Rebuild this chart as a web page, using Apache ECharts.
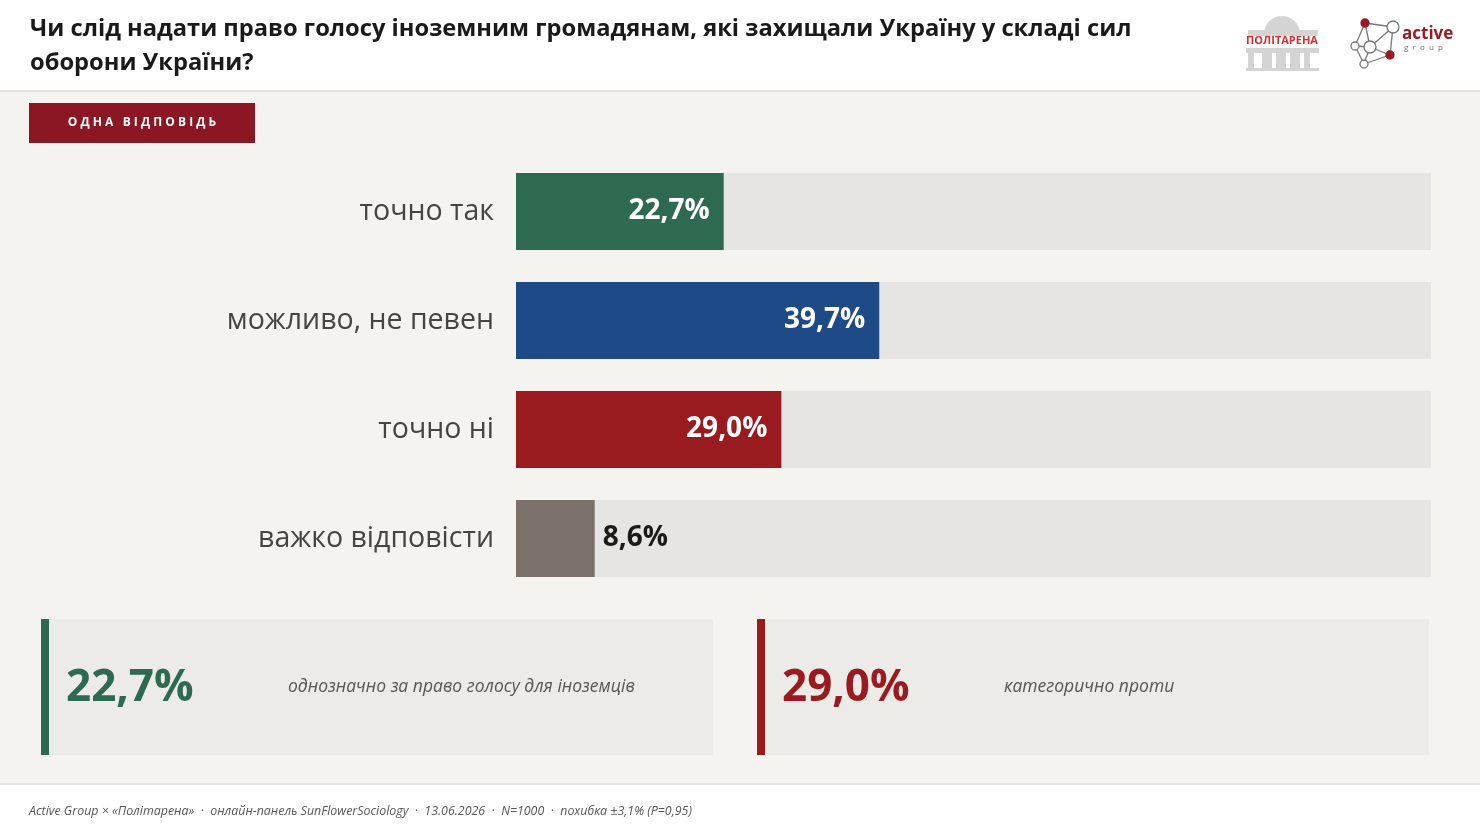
<!DOCTYPE html>
<html>
<head>
<meta charset="utf-8">
<script src="https://cdn.jsdelivr.net/npm/echarts@6/dist/echarts.min.js"></script>
<style>
  html, body { margin: 0; padding: 0; background: #f4f3f0; }
  #main { width: 1480px; height: 830px; }
</style>
</head>
<body>
<div id="main"></div>
<script>
var titleText = 'Чи слід надати право голосу іноземним громадянам, які захищали Україну у складі сил\nоборони України?';
var categories = ['точно так', 'можливо, не певен', 'точно ні', 'важко відповісти'];
var values = [22.7, 39.7, 29.0, 8.6];
var barColors = ['#2e6a4f', '#1e4b87', '#9a1b1f', '#7a716b'];
var summaryNotes = ['однозначно за право голосу для іноземців', 'категорично проти'];
var footerText = 'Active Group × «Політарена»  ·  онлайн-панель SunFlowerSociology  ·  13.06.2026  ·  N=1000  ·  похибка ±3,1% (P=0,95)';

function fmt(v) {
    return v.toFixed(1).replace('.', ',') + '%';
}

function buildSeriesData() {
    return values.map(function (v, i) {
        var item = {
            value: v,
            itemStyle: { color: barColors[i] }
        };
        // маленький стовпчик - підпис зовні
        if (v < 15) {
            item.label = {
                position: 'right',
                distance: 8,
                color: '#1a1a1a'
            };
        }
        return item;
    });
}

function summaryBox(x, color, value, note) {
    return [
        { type: 'rect', shape: { x: x, y: 619, width: 672, height: 136 }, style: { fill: '#edebe7' } },
        { type: 'rect', shape: { x: x, y: 619, width: 8, height: 136 }, style: { fill: color } },
        {
            type: 'text', x: x + 25, y: 688,
            style: {
                text: fmt(value), fill: color, font: 'bold 44px "Open Sans"',
                verticalAlign: 'middle'
            }
        },
        {
            type: 'text', x: x + 247, y: 687,
            style: {
                text: note, fill: '#555', font: 'italic 17.5px "Open Sans"',
                verticalAlign: 'middle'
            }
        }
    ];
}

function logoGraphics() {
    var g = [];
    // Політарена
    var grey = '#d4d4d4';
    g.push({ type: 'sector', shape: { cx: 1282, cy: 34, r0: 0, r: 18, startAngle: Math.PI, endAngle: 2 * Math.PI }, style: { fill: grey } });
    g.push({ type: 'rect', shape: { x: 1248, y: 30, width: 70, height: 6 }, style: { fill: grey } });
    g.push({ type: 'rect', shape: { x: 1246, y: 48, width: 73, height: 5 }, style: { fill: grey } });
    [1248, 1262, 1276, 1290, 1304].forEach(function (cx, i) {
        g.push({ type: 'rect', shape: { x: cx, y: 53, width: i === 0 || i === 4 ? 6 : 10, height: 16 }, style: { fill: grey } });
    });
    g.push({ type: 'rect', shape: { x: 1246, y: 68, width: 73, height: 3 }, style: { fill: grey } });
    g.push({
        type: 'text', x: 1282, y: 41,
        style: { text: 'ПОЛІТАРЕНА', fill: '#e02a2a', font: 'bold 11px "Open Sans"', align: 'center', verticalAlign: 'middle' }
    });
    // active group
    var nodes = [[1365, 23, 4, true], [1393, 27, 6, false], [1370, 47, 6, false], [1355, 46, 4, false],
                 [1390, 55, 4, true], [1364, 64, 4, false]];
    var edges = [[0, 1], [0, 3], [0, 2], [1, 2], [1, 4], [2, 3], [2, 5], [3, 5], [4, 5], [2, 4]];
    edges.forEach(function (e) {
        var a = nodes[e[0]], b = nodes[e[1]];
        g.push({ type: 'line', shape: { x1: a[0], y1: a[1], x2: b[0], y2: b[1] }, style: { stroke: '#777', lineWidth: 1.3 } });
    });
    nodes.forEach(function (n) {
        g.push({
            type: 'circle', shape: { cx: n[0], cy: n[1], r: n[2] },
            style: { fill: n[3] ? '#9b1b24' : '#fff', stroke: n[3] ? '#9b1b24' : '#777', lineWidth: 1.3 }
        });
    });
    g.push({ type: 'text', x: 1402, y: 34, style: { text: 'active', fill: '#9b1b24', font: 'bold 17px "Open Sans"', verticalAlign: 'middle' } });
    g.push({ type: 'text', x: 1404, y: 48, style: { text: 'g  r  o  u  p', fill: '#777', font: '8px "Open Sans"', verticalAlign: 'middle' } });
    return g;
}

function buildOption() {
    var graphics = [
        { type: 'rect', shape: { x: 0, y: 0, width: 1480, height: 90 }, style: { fill: '#ffffff' } },
        { type: 'rect', shape: { x: 0, y: 90, width: 1480, height: 2 }, style: { fill: '#e3e2df' } },
        { type: 'rect', shape: { x: 0, y: 784, width: 1480, height: 46 }, style: { fill: '#ffffff' } },
        { type: 'rect', shape: { x: 0, y: 783, width: 1480, height: 2 }, style: { fill: '#e3e2df' } },
        {
            type: 'text', x: 30, y: 12,
            style: { text: titleText, fill: '#1a1a1a', font: 'bold 23.7px "Open Sans"', lineHeight: 34 }
        },
        { type: 'rect', shape: { x: 29, y: 103, width: 226, height: 40 }, style: { fill: '#8b1723' } },
        {
            type: 'text', x: 142, y: 123,
            style: {
                text: 'О Д Н А   В І Д П О В І Д Ь', fill: '#fff', font: 'bold 12px "Open Sans"',
                align: 'center', verticalAlign: 'middle'
            }
        },
        {
            type: 'text', x: 29, y: 811,
            style: { text: footerText, fill: '#555', font: 'italic 12.4px "Open Sans"', verticalAlign: 'middle' }
        }
    ];
    graphics = graphics.concat(summaryBox(41, barColors[0], values[0], summaryNotes[0]));
    graphics = graphics.concat(summaryBox(757, barColors[2], values[2], summaryNotes[1]));
    graphics = graphics.concat(logoGraphics());

    return {
        backgroundColor: '#f4f3f0',
        animation: false,
        grid: { left: 516, right: 49, top: 157, height: 436, containLabel: false },
        xAxis: {
            type: 'value', min: 0, max: 100,
            show: false
        },
        yAxis: {
            type: 'category',
            data: categories,
            inverse: true,
            axisLine: { show: false },
            axisTick: { show: false },
            axisLabel: {
                margin: 22,
                color: '#444',
                fontSize: 28.5,
                fontFamily: 'Open Sans'
            }
        },
        series: [{
            type: 'bar',
            data: buildSeriesData(),
            barWidth: 77,
            showBackground: true,
            backgroundStyle: { color: '#e6e5e3' },
            label: {
                show: true,
                position: 'insideRight',
                distance: 14,
                color: '#fff',
                fontSize: 28,
                fontWeight: 'bold',
                fontFamily: 'Open Sans',
                formatter: function (p) { return fmt(p.value); }
            }
        }],
        graphic: { elements: graphics }
    };
}

var chart = echarts.init(document.getElementById('main'));
chart.setOption(buildOption());
</script>
</body>
</html>
